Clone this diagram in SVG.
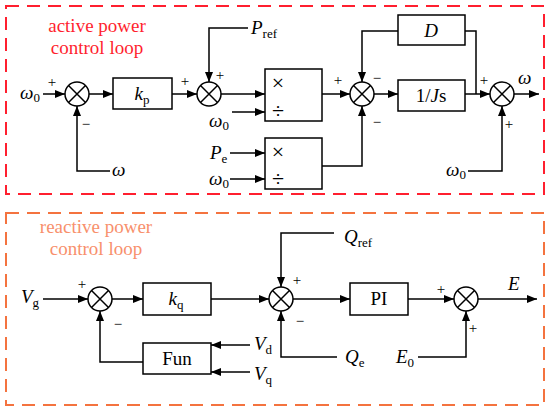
<svg xmlns="http://www.w3.org/2000/svg" width="550" height="411" viewBox="0 0 550 411">
<defs>
<marker id="ah" viewBox="0 0 10 8" refX="10" refY="4" markerWidth="10" markerHeight="8" markerUnits="userSpaceOnUse" orient="auto"><path d="M0,0 L10,4 L0,8 z" fill="#000"/></marker>
<style>
.ln{fill:none;stroke:#000;stroke-width:1.5}
.ar{fill:none;stroke:#000;stroke-width:1.5;marker-end:url(#ah)}
.bx{fill:#fff;stroke:#000;stroke-width:1.5}
.t{font-family:"Liberation Serif","Times New Roman",serif;font-size:19px;fill:#000}
.i{font-style:italic}
.sub{font-size:13px;font-style:normal}
.sg{font-family:"Liberation Serif","Times New Roman",serif;font-size:15px;fill:#000;text-anchor:middle}
.bt{font-family:"Liberation Serif","Times New Roman",serif;font-size:19px;fill:#000;text-anchor:middle}
.op{font-family:"Liberation Serif","Times New Roman",serif;font-size:22px;fill:#000;text-anchor:middle}
</style>
</defs>
<rect x="6" y="6" width="538" height="188" fill="none" stroke="#ff1f2f" stroke-width="2" stroke-dasharray="13 8"/>
<rect x="6" y="213" width="538" height="192" fill="none" stroke="#f4733f" stroke-width="2" stroke-dasharray="13 8"/>
<g id="title-active"><text x="97" y="32" text-anchor="middle" font-family="Liberation Serif, Times New Roman, serif" font-size="19" fill="#ff1f2f">active power</text><text x="97" y="54" text-anchor="middle" font-family="Liberation Serif, Times New Roman, serif" font-size="19" fill="#ff1f2f">control loop</text></g>
<g id="title-reactive"><text x="96" y="233" text-anchor="middle" font-family="Liberation Serif, Times New Roman, serif" font-size="19" fill="#f8906c">reactive power</text><text x="96" y="255" text-anchor="middle" font-family="Liberation Serif, Times New Roman, serif" font-size="19" fill="#f8906c">control loop</text></g>
<g id="connectors">
<line class="ar" x1="43" y1="94" x2="65" y2="94"/>
<path class="ar" d="M110,171 H77 V106"/>
<line class="ar" x1="89" y1="94" x2="113" y2="94"/>
<line class="ar" x1="172" y1="94" x2="197" y2="94"/>
<path class="ar" d="M248,28 H209 V82"/>
<line class="ar" x1="221" y1="94" x2="265" y2="94"/>
<line class="ar" x1="232" y1="112" x2="265" y2="112"/>
<line class="ar" x1="230" y1="153" x2="265" y2="153"/>
<line class="ar" x1="230" y1="179" x2="265" y2="179"/>
<line class="ar" x1="322" y1="94" x2="350" y2="94"/>
<path class="ar" d="M322,166 H362 V106"/>
<path class="ar" d="M398,31 H362 V82"/>
<line class="ar" x1="374" y1="94" x2="398" y2="94"/>
<line class="ar" x1="465" y1="94" x2="490" y2="94"/>
<path class="ln" d="M465,31 H476 V94"/>
<line class="ar" x1="514" y1="94" x2="539" y2="94"/>
<path class="ar" d="M468,171 H502 V106"/>
<line class="ar" x1="43" y1="299" x2="88" y2="299"/>
<line class="ar" x1="112" y1="299" x2="143" y2="299"/>
<line class="ar" x1="211" y1="299" x2="269" y2="299"/>
<path class="ar" d="M334,233 H281 V287"/>
<path class="ar" d="M337,357 H281 V311"/>
<line class="ar" x1="293" y1="299" x2="350" y2="299"/>
<line class="ar" x1="408" y1="299" x2="454" y2="299"/>
<path class="ar" d="M418,357 H466 V311"/>
<line class="ar" x1="478" y1="299" x2="537" y2="299"/>
<line class="ar" x1="250" y1="345" x2="211" y2="345"/>
<line class="ar" x1="250" y1="372" x2="211" y2="372"/>
<path class="ar" d="M143,362 H100 V311"/>
</g>
<g id="sum1"><circle class="bx" cx="77" cy="94" r="12"/><path class="ln" d="M68.5,85.5 L85.5,102.5 M85.5,85.5 L68.5,102.5"/></g>
<g id="sum2"><circle class="bx" cx="209" cy="94" r="12"/><path class="ln" d="M200.5,85.5 L217.5,102.5 M217.5,85.5 L200.5,102.5"/></g>
<g id="sum3"><circle class="bx" cx="362" cy="94" r="12"/><path class="ln" d="M353.5,85.5 L370.5,102.5 M370.5,85.5 L353.5,102.5"/></g>
<g id="sum4"><circle class="bx" cx="502" cy="94" r="12"/><path class="ln" d="M493.5,85.5 L510.5,102.5 M510.5,85.5 L493.5,102.5"/></g>
<g id="sum5"><circle class="bx" cx="100" cy="299" r="12"/><path class="ln" d="M91.5,290.5 L108.5,307.5 M108.5,290.5 L91.5,307.5"/></g>
<g id="sum6"><circle class="bx" cx="281" cy="299" r="12"/><path class="ln" d="M272.5,290.5 L289.5,307.5 M289.5,290.5 L272.5,307.5"/></g>
<g id="sum7"><circle class="bx" cx="466" cy="299" r="12"/><path class="ln" d="M457.5,290.5 L474.5,307.5 M474.5,290.5 L457.5,307.5"/></g>
<g id="kp"><rect class="bx" x="113" y="78" width="59" height="31"/><text class="bt" x="142" y="100"><tspan class="i">k</tspan><tspan class="sub" dy="4">p</tspan></text></g>
<g id="muldiv1"><rect class="bx" x="265" y="69" width="57" height="52"/><text class="op" x="278" y="90">×</text><text class="op" x="278" y="118">÷</text></g>
<g id="muldiv2"><rect class="bx" x="265" y="138" width="57" height="51"/><text class="op" x="278" y="159">×</text><text class="op" x="278" y="186">÷</text></g>
<g id="D"><rect class="bx" x="398" y="15" width="67" height="30"/><text class="bt i" x="431" y="37">D</text></g>
<g id="Js"><rect class="bx" x="398" y="80" width="67" height="31"/><text class="bt" x="431" y="102">1/<tspan class="i">J</tspan>s</text></g>
<g id="kq"><rect class="bx" x="143" y="283" width="68" height="32"/><text class="bt" x="176" y="305"><tspan class="i">k</tspan><tspan class="sub" dy="4">q</tspan></text></g>
<g id="Fun"><rect class="bx" x="143" y="343" width="68" height="31"/><text class="bt" x="177" y="365">Fun</text></g>
<g id="PI"><rect class="bx" x="350" y="283" width="58" height="32"/><text class="bt" x="379" y="305">PI</text></g>
<g id="labels">
<text class="t" x="20" y="99"><tspan class="i">ω</tspan><tspan class="sub" dy="3">0</tspan></text>
<text class="t i" x="112" y="176">ω</text>
<text class="t" x="251" y="34"><tspan class="i">P</tspan><tspan class="sub" dy="4">ref</tspan></text>
<text class="t" x="209" y="127"><tspan class="i">ω</tspan><tspan class="sub" dy="3">0</tspan></text>
<text class="t" x="210" y="159"><tspan class="i">P</tspan><tspan class="sub" dy="4">e</tspan></text>
<text class="t" x="209" y="185"><tspan class="i">ω</tspan><tspan class="sub" dy="3">0</tspan></text>
<text class="t i" x="518" y="84">ω</text>
<text class="t" x="446" y="176"><tspan class="i">ω</tspan><tspan class="sub" dy="3">0</tspan></text>
<text class="t" x="21" y="303"><tspan class="i">V</tspan><tspan class="sub" dy="4">g</tspan></text>
<text class="t" x="344" y="243"><tspan class="i">Q</tspan><tspan class="sub" dy="4">ref</tspan></text>
<text class="t" x="345" y="363"><tspan class="i">Q</tspan><tspan class="sub" dy="4">e</tspan></text>
<text class="t" x="396" y="363"><tspan class="i">E</tspan><tspan class="sub" dy="4">0</tspan></text>
<text class="t i" x="508" y="290">E</text>
<text class="t" x="254" y="350"><tspan class="i">V</tspan><tspan class="sub" dy="4">d</tspan></text>
<text class="t" x="254" y="380"><tspan class="i">V</tspan><tspan class="sub" dy="4">q</tspan></text>
</g>
<g id="signs">
<text class="sg" x="52" y="87">+</text><text class="sg" x="86" y="129">−</text>
<text class="sg" x="185" y="86">+</text><text class="sg" x="220" y="80">+</text>
<text class="sg" x="338" y="85">+</text><text class="sg" x="377" y="83">−</text><text class="sg" x="377" y="127">−</text>
<text class="sg" x="484" y="85">+</text><text class="sg" x="509" y="129">+</text>
<text class="sg" x="82" y="289">+</text><text class="sg" x="118" y="329">−</text>
<text class="sg" x="297" y="285">+</text><text class="sg" x="300" y="326">−</text>
<text class="sg" x="441" y="294">+</text><text class="sg" x="473" y="333">+</text>
</g>
</svg>
